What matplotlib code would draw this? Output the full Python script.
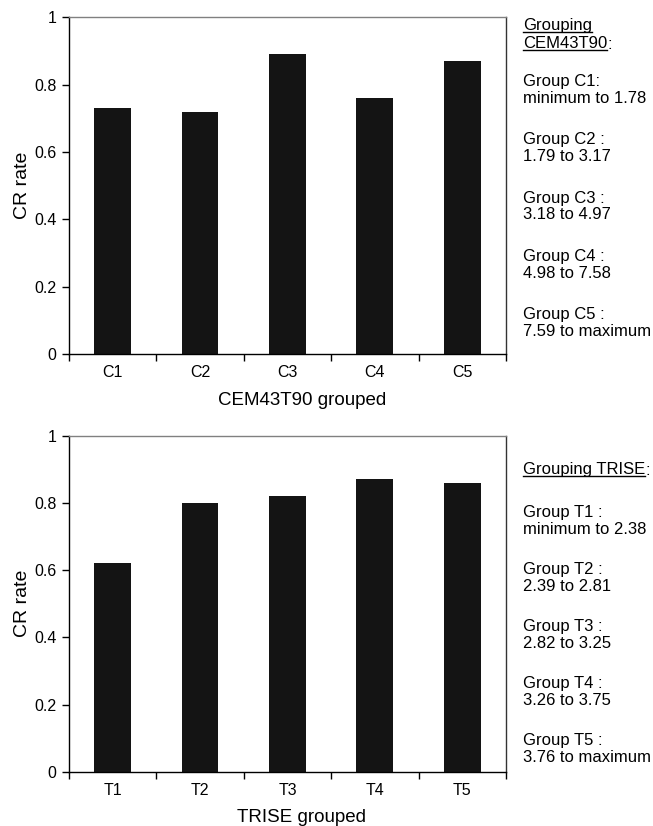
import matplotlib
matplotlib.use("Agg")
import numpy as np
from matplotlib import pyplot as plt
from matplotlib.lines import Line2D

plt.rcParams['font.family'] = ['Liberation Sans', 'DejaVu Sans']

cem_groups = ["C1", "C2", "C3", "C4", "C5"]
cem_rate = [0.73, 0.72, 0.89, 0.76, 0.87]
cem_ranges = ["Group C1:\nminimum to 1.78", "Group C2 :\n1.79 to 3.17", "Group C3 :\n3.18 to 4.97",
              "Group C4 :\n4.98 to 7.58", "Group C5 :\n7.59 to maximum"]

trise_groups = ["T1", "T2", "T3", "T4", "T5"]
trise_rate = [0.62, 0.80, 0.82, 0.87, 0.86]
trise_ranges = ["Group T1 :\nminimum to 2.38", "Group T2 :\n2.39 to 2.81", "Group T3 :\n2.82 to 3.25",
                "Group T4 :\n3.26 to 3.75", "Group T5 :\n3.76 to maximum"]

W, H = 653, 826
fig = plt.figure(figsize=(W / 100, H / 100), dpi=100)

def px(x, y):  # pixel (from top-left) to figure fraction
    return x / W, 1 - y / H

def panel(rect, groups, rate, xlabel):
    ax = fig.add_axes(rect)
    x = np.arange(len(groups))
    ax.bar(x, rate, width=0.42, color="#141414")
    ax.set_xlim(-0.5, len(groups) - 0.5)
    ax.set_ylim(0, 1)
    ax.set_yticks([0, 0.2, 0.4, 0.6, 0.8, 1])
    ax.set_yticklabels(["0", "0.2", "0.4", "0.6", "0.8", "1"])
    ax.set_xticks(x)
    ax.set_xticklabels(groups)
    ax.set_xticks(np.arange(-0.5, len(groups)), minor=True)
    ax.tick_params(axis="x", which="major", length=0, pad=8, labelsize=11.5)
    ax.tick_params(axis="x", which="minor", length=5, direction="out", width=1)
    ax.tick_params(axis="y", length=5, direction="out", width=1, labelsize=11.5, pad=4)
    ax.spines["top"].set_color("#808080")
    ax.spines["right"].set_color("#333333")
    for s in ax.spines.values():
        s.set_linewidth(1)
    ax.set_ylabel("CR rate", fontsize=14, labelpad=2)
    ax.set_xlabel(xlabel, fontsize=13.5)
    ax.xaxis.set_label_coords(0.533, -0.112)
    return ax

panel([0.1057, 0.5714, 0.669, 0.4077], cem_groups, cem_rate, "CEM43T90 grouped")
panel([0.1057, 0.0657, 0.669, 0.4068], trise_groups, trise_rate, "TRISE grouped")

fig.canvas.draw()
renderer = fig.canvas.get_renderer()
FS = 12

def underlined(x, y, s, tail=""):
    t = fig.text(*px(x, y), s, fontsize=FS, va="top", ha="left")
    bb = t.get_window_extent(renderer)
    x0, y0 = fig.transFigure.inverted().transform((bb.x0, bb.y0 + 1))
    x1, _ = fig.transFigure.inverted().transform((bb.x1, bb.y0))
    fig.add_artist(Line2D([x0, x1], [y0, y0], color="black", lw=1, transform=fig.transFigure))
    if tail:
        fig.text(x1, y0 + 0.0015, tail, fontsize=FS, va="baseline", ha="left")

tx = 523
underlined(tx, 18, "Grouping")
underlined(tx, 36, "CEM43T90", ":")
for i, s in enumerate(cem_ranges):
    fig.text(*px(tx, 74 + i * 58.3), s, fontsize=FS, va="top", ha="left", linespacing=1.15)

underlined(tx, 462, "Grouping TRISE", ":")
for i, s in enumerate(trise_ranges):
    fig.text(*px(tx, 505 + i * 57), s, fontsize=FS, va="top", ha="left", linespacing=1.15)

fig.savefig("out.png", dpi=100)
